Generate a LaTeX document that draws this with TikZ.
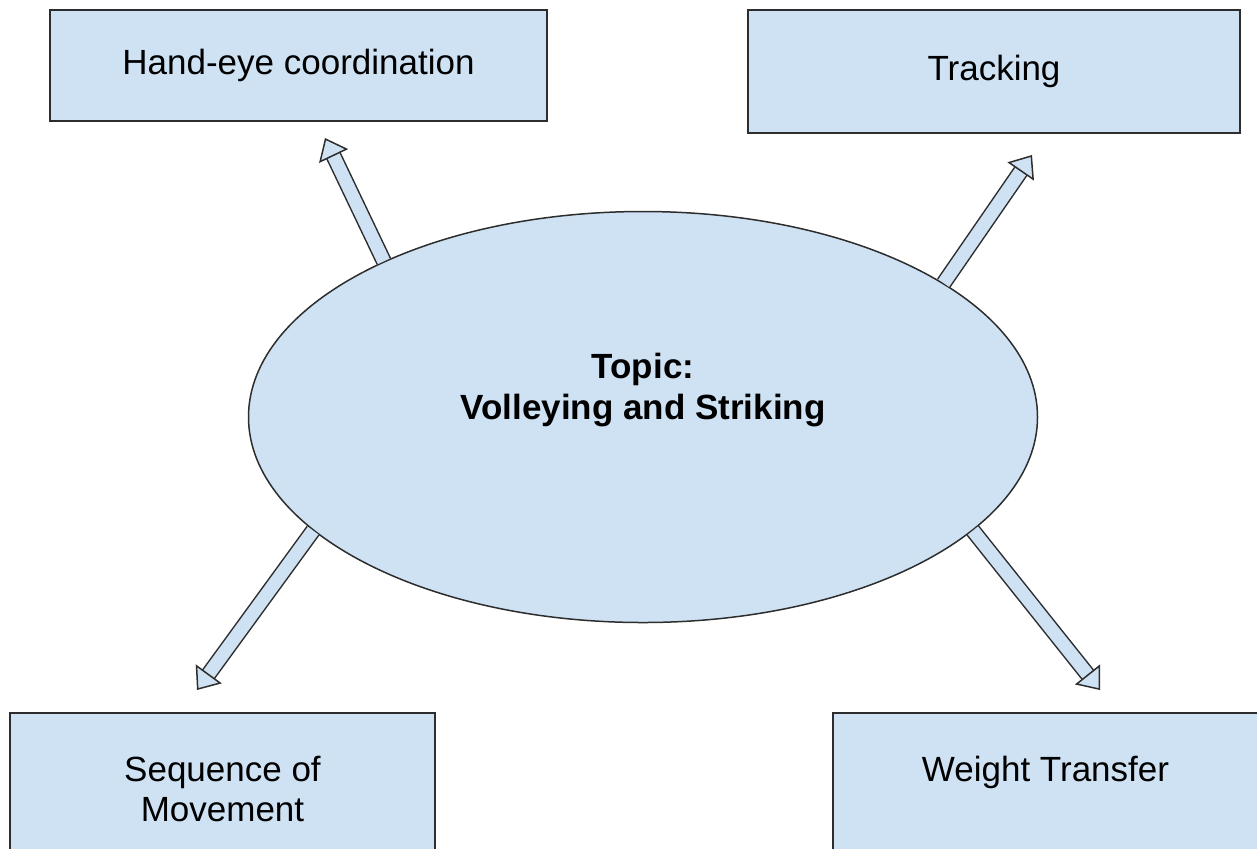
\documentclass[tikz,border=0pt]{standalone}
\usepackage{fontspec}
\setmainfont{Liberation Sans}
\usepackage{tikz}
\usetikzlibrary{arrows.meta,shapes.geometric}
\definecolor{dgblue}{RGB}{207,226,243}
\definecolor{dgink}{RGB}{45,45,45}

\begin{document}
\begin{tikzpicture}[
  x=0.5pt,y=-0.5pt,
  font=\fontsize{17.5}{20}\selectfont,
  box/.style={draw=dgink,line width=0.75pt,fill=dgblue,inner sep=0pt,align=center},
  topic/.style={box,ellipse,minimum width=394.5pt,minimum height=205.5pt,font=\fontsize{17.5}{20.5}\selectfont\bfseries},
  spoke/.style={draw=dgink,line width=0.75pt,double=dgblue,double distance=6.5pt,
    -{Triangle[length=10pt,width=16pt,fill=dgblue]}}
]
  \useasboundingbox (0,0) rectangle (1257,848);

  \node[topic,text depth=31pt] (topic) at (643,417) {Topic:\\Volleying and Striking};

  \node[box,minimum width=248.5pt,minimum height=55.5pt] (hand) at (298.5,65.5) {Hand-eye coordination};
  \node[box,minimum width=246pt,minimum height=61.5pt] (track) at (994,71.5) {Tracking};
  \node[box,minimum width=212.5pt,minimum height=76pt] (seq) at (222.5,789) {Sequence of\\Movement};
  \node[box,minimum width=212.5pt,minimum height=76pt] (weight) at (1045.5,789) {Weight Transfer\\\mbox{}};

  % free arrow ends
  \coordinate (handtip) at (325,138);
  \coordinate (tracktip) at (1032,155);
  \coordinate (seqtip) at (197,690);
  \coordinate (weighttip) at (1100,690);

  \draw[spoke] (topic.149) -- (handtip);
  \draw[spoke] (topic.24.5) -- (tracktip);
  \draw[spoke] (topic.199) -- (seqtip);
  \draw[spoke] (topic.341.3) -- (weighttip);
\end{tikzpicture}
\end{document}
